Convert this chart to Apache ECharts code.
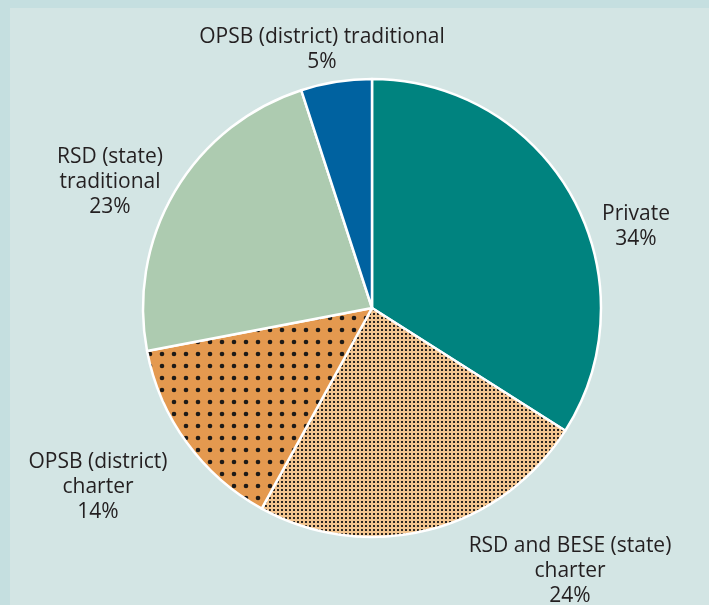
<!DOCTYPE html>
<html><head><meta charset="utf-8">
<script src="https://cdn.jsdelivr.net/npm/echarts@6/dist/echarts.min.js"></script>
<style>html,body{margin:0;padding:0;background:#c5dfe0;}#c{width:709px;height:605px;}</style>
</head><body><div id="c"></div>
<script>
const categories = ["Private", "RSD and BESE (state)\ncharter", "OPSB (district)\ncharter", "RSD (state)\ntraditional", "OPSB (district) traditional"];
const values = [34, 24, 14, 23, 5];

const colors = ['#00837f', null, null, '#adcbb0', '#0062a0'];
const labelPos = [[636, 227], [570, 571], [98, 487], [110, 182], [322, 50]];

function finePattern(){
  const c = document.createElement('canvas'); c.width = 4; c.height = 4;
  const g = c.getContext('2d');
  g.fillStyle = '#f2c48f'; g.fillRect(0,0,4,4);
  g.fillStyle = '#2b2520'; g.fillRect(1,1,2,2);
  return c;
}
function bigPattern(){
  const c = document.createElement('canvas'); c.width = 12; c.height = 12;
  const g = c.getContext('2d');
  g.fillStyle = '#e4994f'; g.fillRect(0,0,12,12);
  g.fillStyle = '#1e1a17'; g.beginPath(); g.arc(6,6,2.3,0,Math.PI*2); g.fill();
  return c;
}
const fills = colors.slice();
fills[1] = {image: finePattern(), repeat: 'repeat'};
fills[2] = {image: bigPattern(), repeat: 'repeat'};

const chart = echarts.init(document.getElementById('c'));
chart.setOption({
  backgroundColor: '#c5dfe0',
  animation: false,
  graphic: [{type: 'rect', z: -10, shape: {x: 10, y: 8, width: 709, height: 605}, style: {fill: '#d3e5e4'}}],
  series: [{
    type: 'pie',
    center: [372, 308],
    radius: [0, 229],
    startAngle: 90,
    clockwise: true,
    silent: true,
    data: categories.map((n, i) => ({name: n, value: values[i], itemStyle: {color: fills[i]}})),
    itemStyle: {borderColor: '#ffffff', borderWidth: 2.5},
    label: {
      show: true, position: 'outside', overflow: 'none',
      formatter: p => p.name + '\n' + p.value + '%',
      fontFamily: 'Open Sans', fontSize: 21, lineHeight: 25, color: '#231f20', align: 'center'
    },
    labelLine: {show: false},
    labelLayout: p => ({x: labelPos[p.dataIndex][0], y: labelPos[p.dataIndex][1], align: 'center', verticalAlign: 'middle', hideOverlap: false, moveOverlap: false})
  }]
});
</script></body></html>
